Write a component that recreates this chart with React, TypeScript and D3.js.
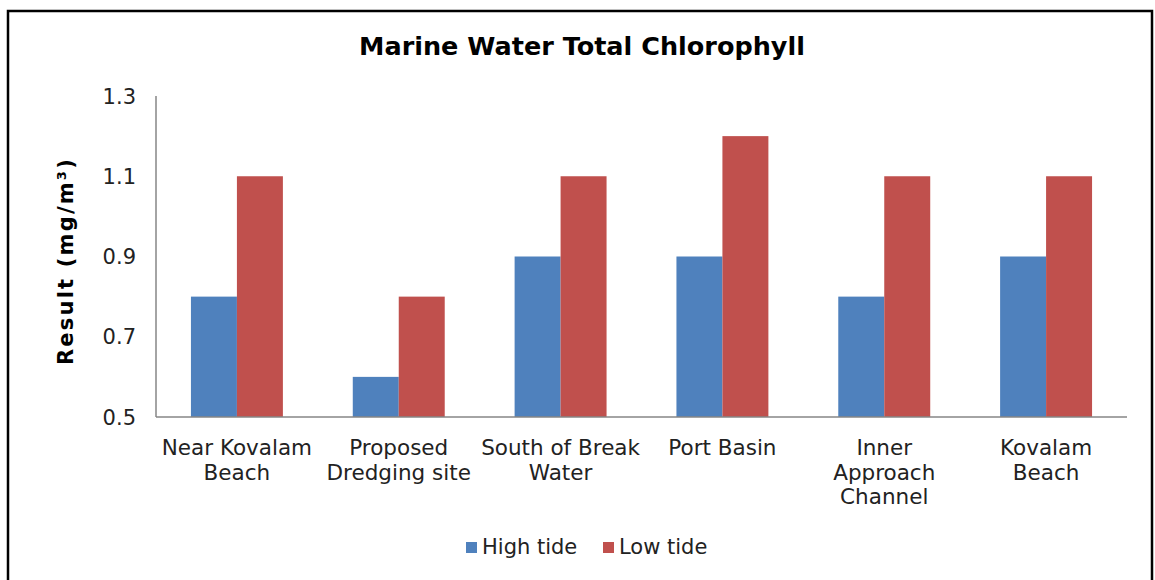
import React from "react";
import * as d3 from "d3";

const categories: string[][] = [
  ["Near Kovalam", "Beach"],
  ["Proposed", "Dredging site"],
  ["South of Break", "Water"],
  ["Port Basin"],
  ["Inner", "Approach", "Channel"],
  ["Kovalam", "Beach"],
];
const highTide = [0.8, 0.6, 0.9, 0.9, 0.8, 0.9];
const lowTide = [1.1, 0.8, 1.1, 1.2, 1.1, 1.1];
const yTicks = [0.5, 0.7, 0.9, 1.1, 1.3];
const seriesNames = ["High tide", "Low tide"];
const colors = ["#4F81BD", "#C0504D"];

export default function App() {
  const W = 1155, H = 580;
  const left = 156, right = 1127, top = 96, bottom = 417;
  const x = d3.scaleBand<number>().domain(d3.range(categories.length)).range([left, right]);
  const inner = d3.scaleBand<number>().domain([0, 1]).range([0, x.bandwidth()]).paddingInner(0).paddingOuter(0.76);
  const y = d3.scaleLinear().domain([0.5, 1.3]).range([bottom, top]);
  const font = "DejaVu Sans, Verdana, sans-serif";
  const series = [highTide, lowTide];
  return (
    <svg width={W} height={H} style={{ position: "absolute", left: 0, top: 0, background: "#fff" }}>
      <rect x={8} y={11} width={1144} height={600} fill="#fff" stroke="#000" strokeWidth={2.5} />
      <text x={582} y={55} textAnchor="middle" fontFamily={font} fontWeight="bold" fontSize={25.5} fill="#000">
        Marine Water Total Chlorophyll
      </text>
      <text transform={`translate(73,261) rotate(-90)`} textAnchor="middle" fontFamily={font} fontWeight="bold" fontSize={21} letterSpacing={2.2} fill="#000">
        Result (mg/m³)
      </text>
      {yTicks.map((t) => (
        <text key={t} x={136} y={y(t) + 7.5} textAnchor="end" fontFamily={font} fontSize={21} fill="#222">
          {t.toFixed(1)}
        </text>
      ))}
      {series.map((vals, s) =>
        vals.map((v, i) => (
          <rect key={`${s}-${i}`} x={(x(i) ?? 0) + (inner(s) ?? 0)} y={y(v)} width={inner.bandwidth()} height={bottom - y(v)} fill={colors[s]} />
        ))
      )}
      <line x1={left} x2={left} y1={top} y2={bottom} stroke="#868686" strokeWidth={1.5} />
      <line x1={left} x2={right} y1={bottom} y2={bottom} stroke="#868686" strokeWidth={1.5} />
      {categories.map((lines, i) => (
        <text key={i} textAnchor="middle" fontFamily={font} fontSize={21.5} fill="#222">
          {lines.map((l, j) => (
            <tspan key={j} x={(x(i) ?? 0) + x.bandwidth() / 2} y={455 + j * 24.5}>{l}</tspan>
          ))}
        </text>
      ))}
      {seriesNames.map((n, s) => (
        <g key={n} transform={`translate(${s === 0 ? 466 : 603},0)`}>
          <rect x={0} y={542} width={11} height={11} fill={colors[s]} />
          <text x={16} y={554} fontFamily={font} fontSize={21} fill="#222">{n}</text>
        </g>
      ))}
    </svg>
  );
}
